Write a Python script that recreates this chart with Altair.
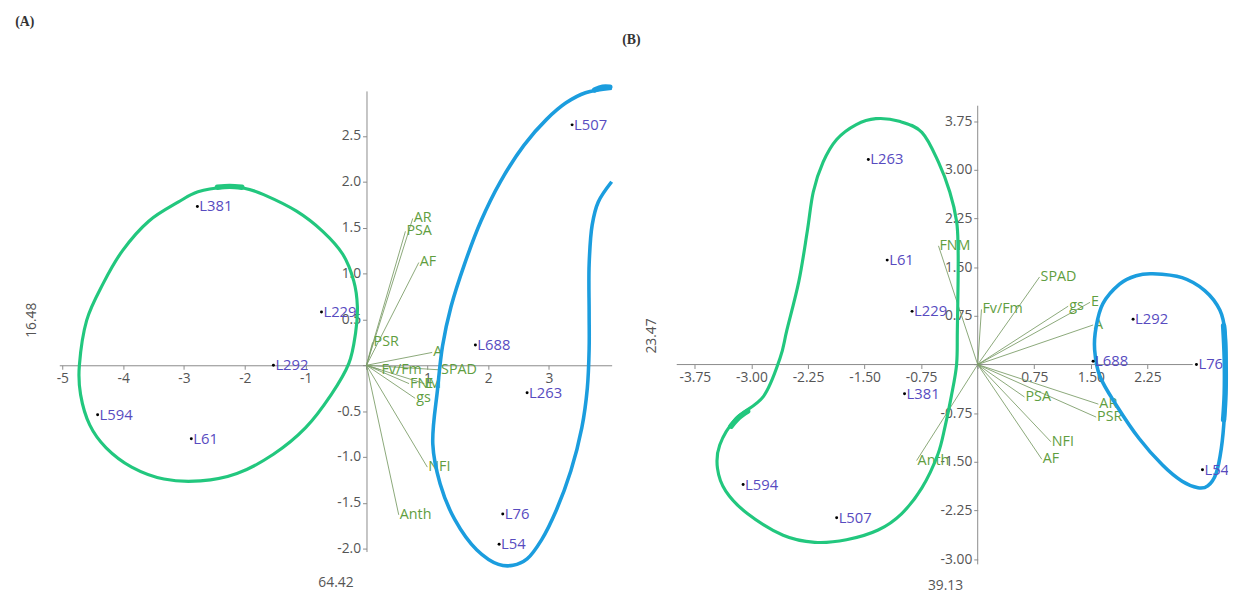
import altair as alt
import pandas as pd

FONT = "Open Sans"
AXIS_COLOR = "#8a8a8a"
TICK_TEXT = "#555555"
POINT_TEXT = "#574bbf"
VAR_TEXT = "#5f9e3f"
VAR_LINE = "#7d9e6a"
GREEN = "#22c77e"
BLUE = "#1b9dde"

# ---------------- Panel A data ----------------
a_lines = ["L507", "L381", "L229", "L292", "L688", "L594", "L61", "L263", "L76", "L54"]
a_pc1 = [3.38, -2.78, -0.74, -1.53, 1.79, -4.42, -2.88, 2.64, 2.24, 2.18]
a_pc2 = [2.62, 1.73, 0.58, 0.00, 0.22, -0.54, -0.80, -0.30, -1.62, -1.95]

a_vars = ["AR", "PSA", "AF", "PSR", "A", "SPAD", "Fv/Fm", "FNM", "E", "gs", "NFI", "Anth"]
a_load1 = [0.76, 0.64, 0.86, 0.10, 1.08, 1.21, 0.23, 0.70, 0.95, 0.80, 1.00, 0.53]
a_load2 = [1.60, 1.46, 1.12, 0.25, 0.14, -0.05, -0.05, -0.20, -0.20, -0.36, -1.11, -1.63]

a_green_x = [-2.77, -2.33, -2.01, -1.69, -1.15, -0.72, -0.39, -0.21, -0.15, -0.18, -0.29,
             -0.58, -1.00, -1.53, -2.13, -2.73, -3.33, -3.86, -4.28, -4.55, -4.70, -4.72,
             -4.60, -4.33, -4.01, -3.58, -3.09]
a_green_y = [1.89, 1.94, 1.93, 1.86, 1.68, 1.46, 1.21, 0.92, 0.64, 0.35, 0.02,
             -0.32, -0.68, -0.97, -1.18, -1.26, -1.24, -1.11, -0.90, -0.65, -0.32, 0.00,
             0.49, 0.89, 1.25, 1.57, 1.78]
# short doubled pen stroke at the top of the green loop
a_green_thick_x = [-2.45, -2.25, -2.05]
a_green_thick_y = [1.94, 1.95, 1.94]

a_blue_x = [4.03, 3.60, 3.28, 2.96, 2.59, 2.20, 1.88, 1.61, 1.39, 1.25, 1.17, 1.09, 1.21,
            1.45, 1.81, 2.17, 2.41, 2.64, 2.88, 3.12, 3.36, 3.54, 3.63, 3.66, 3.66, 3.66,
            3.71, 3.81, 4.03]
a_blue_y = [3.02, 2.97, 2.86, 2.68, 2.40, 2.00, 1.57, 1.10, 0.64, 0.21, -0.25, -0.86, -1.29,
            -1.68, -2.01, -2.17, -2.18, -2.11, -1.90, -1.58, -1.15, -0.68, -0.25, 0.18, 0.57,
            1.10, 1.53, 1.78, 2.00]
a_blue_thick_x = [3.75, 3.88, 4.00]
a_blue_thick_y = [3.00, 3.03, 3.03]

a_xticks = [-5, -4, -3, -2, -1, 0, 1, 2, 3]
a_yticks = [-2.0, -1.5, -1.0, -0.5, 0.0, 0.5, 1.0, 1.5, 2.0, 2.5]
a_xtitle = "64.42"
a_ytitle = "16.48"

# ---------------- Panel B data ----------------
b_lines = ["L263", "L61", "L229", "L292", "L688", "L76", "L381", "L594", "L507", "L54"]
b_pc1 = [-1.45, -1.20, -0.87, 2.06, 1.53, 2.90, -0.97, -3.11, -1.87, 2.98]
b_pc2 = [3.16, 1.61, 0.82, 0.70, 0.05, 0.00, -0.45, -1.85, -2.36, -1.62]

b_vars = ["FNM", "SPAD", "Fv/Fm", "gs", "E", "A", "PSA", "AR", "PSR", "NFI", "AF", "Anth"]
b_load1 = [-0.52, 0.82, 0.05, 1.20, 1.49, 1.53, 0.62, 1.60, 1.57, 0.97, 0.85, -0.81]
b_load2 = [1.83, 1.35, 0.85, 0.90, 0.96, 0.61, -0.50, -0.61, -0.81, -1.19, -1.46, -1.48]

b_green_x = [-1.35, -1.61, -1.87, -2.05, -2.18, -2.26, -2.37, -2.53, -2.62, -2.84, -3.21,
             -3.42, -3.45, -3.34, -3.05, -2.58, -2.16, -1.74, -1.32, -1.01, -0.74, -0.53,
             -0.43, -0.35, -0.28, -0.27, -0.26, -0.26, -0.28, -0.37, -0.52, -0.74, -1.04]
b_green_y = [3.79, 3.70, 3.47, 3.12, 2.66, 2.05, 1.29, 0.53, 0.10, -0.49, -0.84,
             -1.24, -1.60, -1.95, -2.30, -2.63, -2.74, -2.70, -2.55, -2.30, -1.90, -1.39,
             -0.94, -0.49, 0.00, 0.53, 1.29, 1.80, 2.21, 2.66, 3.12, 3.58, 3.75]
b_green_thick_x = [-3.05, -3.17, -3.27]
b_green_thick_y = [-0.72, -0.82, -0.95]

b_blue_x = [2.32, 2.71, 3.01, 3.21, 3.28, 3.29, 3.27, 3.23, 3.16, 3.05, 2.92, 2.71, 2.45,
            2.14, 1.84, 1.62, 1.55, 1.57, 1.66, 1.88, 2.10]
b_blue_y = [1.40, 1.34, 1.14, 0.84, 0.49, -0.08, -0.79, -1.29, -1.68, -1.87, -1.90, -1.80,
            -1.55, -1.14, -0.63, -0.18, 0.23, 0.58, 0.94, 1.24, 1.37]
b_blue_thick_x = [3.26, 3.28, 3.28, 3.26]
b_blue_thick_y = [0.60, 0.10, -0.45, -0.85]

b_xticks = [-3.75, -3.0, -2.25, -1.5, -0.75, 0.0, 0.75, 1.5, 2.25]
b_yticks = [-3.0, -2.25, -1.5, -0.75, 0.0, 0.75, 1.5, 2.25, 3.0, 3.75]
b_xtitle = "39.13"
b_ytitle = "23.47"


def panel(tag, lines, pc1, pc2, names, l1, l2, green, blue, blue_closed, thick_g, thick_b,
          xticks, yticks, xfmt, yfmt, xtitle, ytitle, W, H, xdom, ydom,
          xline, yline, tag_pos, anchor_pos, xt_pos, yt_pos, clip_labels):
    xmin, xmax = xdom
    ymin, ymax = ydom
    x0 = W * (0 - xmin) / (xmax - xmin)
    y0 = H * (ymax - 0) / (ymax - ymin)
    xs = alt.Scale(domain=[xmin, xmax], nice=False, zero=False)
    ys = alt.Scale(domain=[ymin, ymax], nice=False, zero=False)

    def lab(fmt):
        return ("datum.value == 0 ? '' : replace(format(datum.value, '%s'), '\u2212', '-')" % fmt)

    xaxis = alt.Axis(values=xticks, labelExpr=lab(xfmt), offset=-(H - y0), grid=False,
                     domain=xline is None, domainColor=AXIS_COLOR, tickColor=AXIS_COLOR,
                     tickSize=4, labelColor=TICK_TEXT, labelFont=FONT, labelFontSize=14,
                     labelFlush=False, labelOverlap=False, labelPadding=2,
                     title=xtitle, titleX=xt_pos[0], titleY=xt_pos[1] - y0,
                     titleFont=FONT, titleFontSize=14, titleFontWeight="normal",
                     titleColor=TICK_TEXT, titleAlign="center", titleBaseline="middle")
    yaxis = alt.Axis(values=yticks, labelExpr=lab(yfmt), offset=-x0, grid=False,
                     domain=yline is None, domainColor=AXIS_COLOR, tickColor=AXIS_COLOR,
                     tickSize=4, labelColor=TICK_TEXT, labelFont=FONT, labelFontSize=14,
                     labelFlush=False, labelOverlap=False, labelPadding=2,
                     title=ytitle, titleX=yt_pos[0] - x0, titleY=yt_pos[1], titleAngle=270,
                     titleFont=FONT, titleFontSize=14, titleFontWeight="normal",
                     titleColor=TICK_TEXT, titleAlign="center", titleBaseline="middle")
    X = alt.X("x:Q", scale=xs, axis=xaxis)
    Y = alt.Y("y:Q", scale=ys, axis=yaxis)

    vec = pd.DataFrame({"x": [0.0] * len(names), "y": [0.0] * len(names),
                        "x2": l1, "y2": l2, "name": names})
    vlab = pd.DataFrame({"x": l1, "y": l2, "name": names})
    pts = pd.DataFrame({"x": pc1, "y": pc2, "name": lines})

    def path(xy):
        return pd.DataFrame({"x": xy[0], "y": xy[1], "i": list(range(len(xy[0])))})

    layers = []
    if xline is not None:
        axl = pd.DataFrame({"x": [xline[0]], "x2": [xline[1]], "y": [0.0]})
        layers.append(alt.Chart(axl).mark_rule(color=AXIS_COLOR, strokeWidth=1)
                      .encode(x=X, x2="x2:Q", y=Y))
    if yline is not None:
        ayl = pd.DataFrame({"x": [0.0], "y": [yline[0]], "y2": [yline[1]]})
        layers.append(alt.Chart(ayl).mark_rule(color=AXIS_COLOR, strokeWidth=1)
                      .encode(x=X, y=Y, y2="y2:Q"))
    layers.append(alt.Chart(vec).mark_rule(color=VAR_LINE, strokeWidth=0.9)
                  .encode(x=X, y=Y, x2="x2:Q", y2="y2:Q"))
    layers.append(alt.Chart(vlab).mark_text(align="left", baseline="middle", dx=1,
                                            font=FONT, fontSize=14.5, color=VAR_TEXT)
                  .encode(x=X, y=Y, text="name:N"))
    layers.append(alt.Chart(path(green)).mark_line(color=GREEN, strokeWidth=3.2,
                                                   interpolate="cardinal-closed")
                  .encode(x=X, y=Y, order="i:Q"))
    layers.append(alt.Chart(path(thick_g)).mark_line(color=GREEN, strokeWidth=5.5,
                                                     interpolate="catmull-rom", strokeCap="round")
                  .encode(x=X, y=Y, order="i:Q"))
    layers.append(alt.Chart(path(blue)).mark_line(color=BLUE, strokeWidth=3.6,
                                                  interpolate="cardinal-closed" if blue_closed else "catmull-rom")
                  .encode(x=X, y=Y, order="i:Q"))
    layers.append(alt.Chart(path(thick_b)).mark_line(color=BLUE, strokeWidth=5.5,
                                                     interpolate="catmull-rom", strokeCap="round")
                  .encode(x=X, y=Y, order="i:Q"))
    layers.append(alt.Chart(pts).mark_circle(color="black", size=9, opacity=1)
                  .encode(x=X, y=Y))
    layers.append(alt.Chart(pts).mark_text(align="left", baseline="middle", dx=2,
                                           font=FONT, fontSize=15, color=POINT_TEXT,
                                           clip=clip_labels)
                  .encode(x=X, y=Y, text="name:N"))
    tagdf = pd.DataFrame({"t": [tag]})
    layers.append(alt.Chart(tagdf).mark_text(align="center", baseline="middle",
                                             font="Liberation Serif", fontSize=14,
                                             fontWeight="bold", color="#333333")
                  .encode(x=alt.value(tag_pos[0]), y=alt.value(tag_pos[1]), text="t:N"))
    layers.append(alt.Chart(tagdf).mark_text(align="left", baseline="top", opacity=0,
                                             fontSize=8)
                  .encode(x=alt.value(anchor_pos[0]), y=alt.value(anchor_pos[1]), text="t:N"))
    return alt.layer(*layers).properties(width=W, height=H)


# Both plot areas start at y=88 (hconcat aligns them).
# A spans x 60..620, y 88..555 ; B spans x 678..1237, y 88..568 (its y axis line starts at 103)
b_unit_y = 465 / (3.99 + 3.08)
b_ymax = 3.99 + 15 / b_unit_y
b_unit_x = 559 / 7.31
b_W = 559
b_xmax = -3.99 + b_W / b_unit_x

pa = panel("(A)", a_lines, a_pc1, a_pc2, a_vars, a_load1, a_load2,
           (a_green_x, a_green_y), (a_blue_x, a_blue_y), False,
           (a_green_thick_x, a_green_thick_y), (a_blue_thick_x, a_blue_thick_y),
           a_xticks, a_yticks, "d", ".1f", a_xtitle, a_ytitle,
           560, 467, (-5.05, 4.03), (-2.03, 2.99), None, None,
           (25 - 60, 18 - 88), (8 - 60, 8 - 88), (340 - 60, 586 - 88), (32 - 60, 320 - 88),
           False)
pb = panel("(B)", b_lines, b_pc1, b_pc2, b_vars, b_load1, b_load2,
           (b_green_x, b_green_y), (b_blue_x, b_blue_y), True,
           (b_green_thick_x, b_green_thick_y), (b_blue_thick_x, b_blue_thick_y),
           b_xticks, b_yticks, ".2f", ".2f", b_xtitle, b_ytitle,
           b_W, 480, (-3.99, b_xmax), (-3.08, b_ymax), (-3.99, 2.85), (-3.08, 3.99),
           (632 - 678, 36 - 88), (622 - 678, 8 - 88), (950 - 678, 589 - 88), (652 - 678, 336 - 88),
           True)

chart = (alt.hconcat(pa, pb, spacing=0)
         .properties(padding={"left": 0, "top": 0, "right": 0, "bottom": 0},
                     background="white")
         .configure_view(stroke=None))

chart.save("out.html", embed_options={"renderer": "svg", "actions": False})
